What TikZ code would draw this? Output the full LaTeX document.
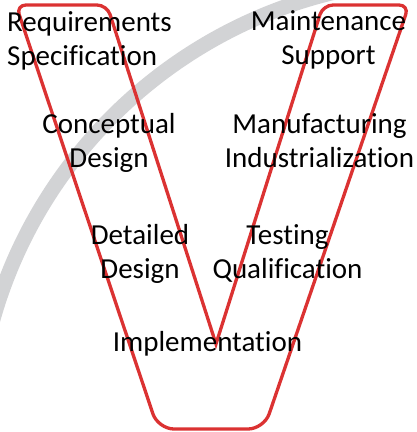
\documentclass[tikz,border=0pt]{standalone}
\usepackage{fontspec}
\setmainfont{Carlito}[Ligatures=NoCommon]
\definecolor{vred}{RGB}{219,50,50}
\definecolor{arcgrey}{RGB}{210,211,213}

\begin{document}
\begin{tikzpicture}[x=1pt,y=-1pt,
  stage/.style={font=\fontsize{29}{33.5}\selectfont, align=center, anchor=base, inner sep=0pt},
  vline/.style={draw=vred, line width=3.3pt, line join=miter},
  arcband/.style={draw=arcgrey, line width=15pt}]
\useasboundingbox (0,0) rectangle (416,432);

% large grey arc in the background
\begin{scope}
  \clip (0,0) rectangle (416,432);
  \coordinate (hub) at (442.4,446.7);
  \draw[arcband] (hub) circle[radius=467pt];
\end{scope}

% corners of the V outline
\coordinate (tlo) at (16,5);
\coordinate (tli) at (107,5);
\coordinate (tip) at (216,344);
\coordinate (tri) at (323,5);
\coordinate (tro) at (409,5);
\coordinate (bro) at (264,429);
\coordinate (blo) at (158,429);

\draw[vline] (tip) [rounded corners=10pt] -- (tli) -- (tlo) [rounded corners=16pt] -- (blo) -- (bro) [rounded corners=10pt] -- (tro) -- (tri) [sharp corners] -- cycle;

% phase labels (anchored at the baseline of their last line)
\node[stage, align=left, anchor=base west] (req) at (7,65) {Requirements\\Specification};
\node[stage] (con) at (109,167) {Conceptual\\Design};
\node[stage] (det) at (140,278) {Detailed\\Design};
\node[stage] (imp) at (207.5,351) {Implementation};
\node[stage] (tst) at (287.5,278) {Testing\\Qualification};
\node[stage] (man) at (319.5,167) {Manufacturing\\Industrialization};
\node[stage] (mnt) at (328.5,64) {Maintenance\\Support};
\end{tikzpicture}
\end{document}
